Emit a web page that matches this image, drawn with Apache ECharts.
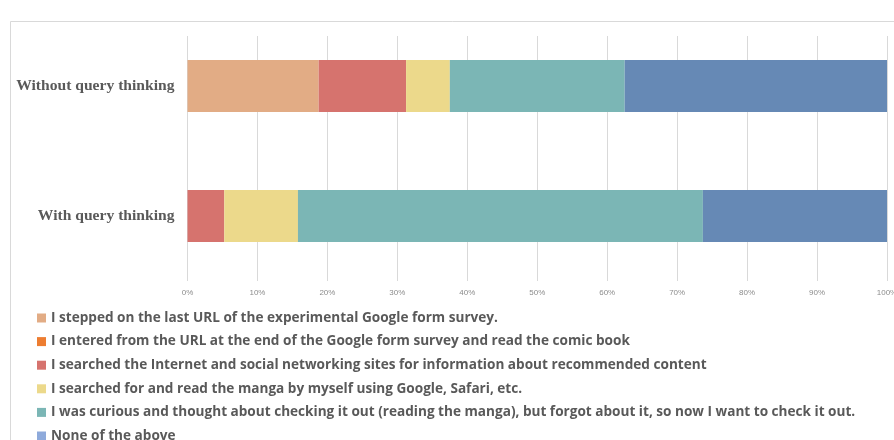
<!DOCTYPE html>
<html>
<head>
<meta charset="utf-8">
<style>
  html, body { margin: 0; padding: 0; background: #fff; }
  #chart { width: 894px; height: 440px; }
</style>
<script src="https://cdn.jsdelivr.net/npm/echarts@6/dist/echarts.min.js"></script>
</head>
<body>
<div id="chart"></div>
<script>
// Groups shown on the vertical axis (top to bottom)
var groups = ['Without query thinking', 'With query thinking'];

// Share of answers in each group, in percent
var steppedOnUrl   = [18.75, 0];
var enteredFromUrl = [0, 0];
var searchedSns    = [12.5, 5.26];
var searchedManga  = [6.25, 10.53];
var curiousForgot  = [25, 57.89];
var noneOfAbove    = [37.5, 26.32];

var seriesNames = [
  'I stepped on the last URL of the experimental Google form survey.',
  'I entered from the URL at the end of the Google form survey and read the comic book',
  'I searched the Internet and social networking sites for information about recommended content',
  'I searched for and read the manga by myself using Google, Safari, etc.',
  'I was curious and thought about checking it out (reading the manga), but forgot about it, so now I want to check it out.',
  'None of the above'
];
var seriesValues = [steppedOnUrl, enteredFromUrl, searchedSns, searchedManga, curiousForgot, noneOfAbove];
var barColors = ['#e2ac85', '#ed7d31', '#d6736e', '#ecd98b', '#7bb6b5', '#6689b5'];
var legendColors = ['#e2ac85', '#ed7d31', '#d6736e', '#ecd98b', '#7bb6b5', '#8eaadb'];

var chart = echarts.init(document.getElementById('chart'));

var series = seriesNames.map(function (name, i) {
  return {
    name: name,
    type: 'bar',
    stack: 'total',
    barWidth: 52,
    itemStyle: { color: barColors[i] },
    emphasis: { disabled: true },
    data: seriesValues[i]
  };
});

chart.setOption({
  animation: false,
  backgroundColor: '#ffffff',
  graphic: [
    {
      type: 'rect',
      silent: true,
      z: -10,
      shape: { x: 10.5, y: 21.5, width: 900, height: 430 },
      style: { fill: 'none', stroke: '#d9d9d9', lineWidth: 1 }
    },
    {
      // keeps the gridlines starting a little below the frame
      type: 'rect',
      silent: true,
      z: 1,
      shape: { x: 180, y: 22, width: 714, height: 14 },
      style: { fill: '#ffffff' }
    }
  ],
  grid: {
    left: 187.5, right: 7, top: 21, bottom: 159,
    containLabel: false,
    outerBoundsMode: 'none'
  },
  legend: {
    orient: 'vertical',
    left: 37,
    top: 310,
    height: 170,
    padding: 0,
    itemWidth: 9,
    itemHeight: 9,
    itemGap: 7.6,
    icon: 'rect',
    selectedMode: false,
    textStyle: {
      color: '#595959',
      fontFamily: '"Open Sans", sans-serif',
      fontWeight: 'bold',
      fontSize: 13.6,
      lineHeight: 16
    },
    data: seriesNames.map(function (n, i) {
      return { name: n, itemStyle: { color: legendColors[i] } };
    })
  },
  xAxis: {
    type: 'value',
    min: 0,
    max: 100,
    interval: 10,
    axisLine: { show: false },
    axisTick: { show: false },
    splitLine: { lineStyle: { color: '#d9d9d9', width: 1 } },
    axisLabel: {
      formatter: '{value}%',
      color: '#8c8c8c',
      fontSize: 8,
      fontFamily: '"Liberation Sans", sans-serif',
      margin: 8
    }
  },
  yAxis: {
    type: 'category',
    inverse: true,
    data: groups,
    axisLine: { show: false },
    axisTick: { show: false },
    axisLabel: {
      color: '#595959',
      fontFamily: '"Liberation Serif", serif',
      fontWeight: 'bold',
      fontSize: 15.6,
      margin: 13
    }
  },
  series: series
});
</script>
</body>
</html>
